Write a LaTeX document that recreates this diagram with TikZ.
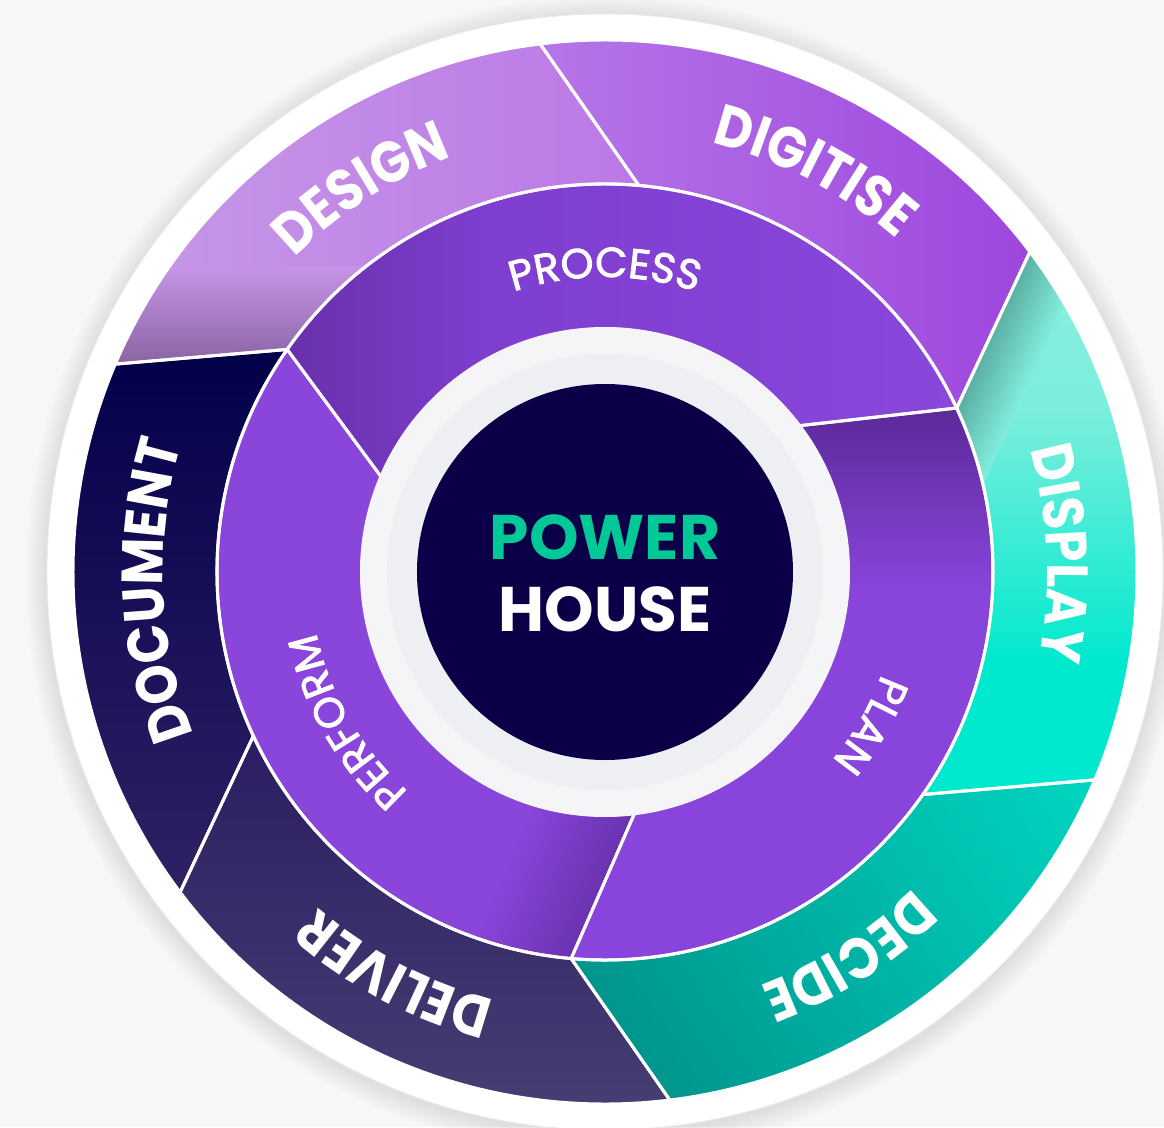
\documentclass[tikz,border=0pt]{standalone}
\usepackage{fontspec}
\setmainfont{Poppins}
\newfontfamily\olfam{Poppins}[FakeStretch=0.88]
\newfontfamily\mlfam{Poppins}[FakeBold=2]
\usetikzlibrary{decorations.text}

\definecolor{bgc}{HTML}{F7F7F8}
\definecolor{navy}{HTML}{0B0047}
\definecolor{pgreen}{HTML}{00C896}
\definecolor{ringA}{HTML}{F5F5F7}
\definecolor{ringB}{HTML}{EEEFF3}
% outer ring
\definecolor{dsL}{HTML}{C79CE8}
\definecolor{dsR}{HTML}{BC78E6}
\definecolor{dsM}{HTML}{C594E8}
\definecolor{dsD}{HTML}{88639F}
\definecolor{dgL}{HTML}{B676E7}
\definecolor{dgR}{HTML}{9D46DE}
\definecolor{dpT}{HTML}{8EEFE0}
\definecolor{dpM}{HTML}{7BEEDC}
\definecolor{dpB}{HTML}{00E9CE}
\definecolor{dpS}{HTML}{5AAEA2}
\definecolor{dcL}{HTML}{00958D}
\definecolor{dcR}{HTML}{00D6C1}
\definecolor{dlT}{HTML}{2B1D61}
\definecolor{dlB}{HTML}{473E73}
\definecolor{dmT}{HTML}{02004A}
\definecolor{dmM}{HTML}{160D57}
\definecolor{dmB}{HTML}{302165}
% middle ring
\definecolor{prL}{HTML}{672FA9}
\definecolor{prM}{HTML}{7E3ECF}
\definecolor{prR}{HTML}{8A47DC}
\definecolor{plT}{HTML}{5A2997}
\definecolor{plB}{HTML}{8944DB}
\definecolor{pfD}{HTML}{6A32B0}
\definecolor{pfB}{HTML}{8A45DB}

% annular sectors with slanted sides
\newcommand\osect[1]{(#1:532pt) arc[start angle=#1, end angle={#1+60}, radius=532pt] -- ({#1+48}:388pt) arc[start angle={#1+48}, end angle={#1-12}, radius=388pt] -- cycle}
\newcommand\msect[1]{(#1:388pt) arc[start angle=#1, end angle={#1+120}, radius=388pt] -- ({#1+132}:243pt) arc[start angle={#1+132}, end angle={#1+12}, radius=243pt] -- cycle}

\newcommand\olfont{\olfam\bfseries\fontsize{58}{58}\selectfont\color{white}}
\newcommand\mlfont{\mlfam\fontsize{42}{42}\selectfont\color{white}}

\tikzset{
  olab/.style={decorate, decoration={text along path, text align=center, text={|\olfont|#1}}},
  mlab/.style={decorate, decoration={text along path, text align=center, text={|\mlfont|#1}}},
  sepline/.style={draw=white, line width=3pt, line join=round},
  centertext/.style={font=\fontsize{63}{63}\selectfont\bfseries, anchor=base, inner sep=0pt}
}

\newcommand\otext[2]{\path[olab={#2}] ({#1+45}:442pt) arc[start angle={#1+45}, end angle={#1-45}, radius=442pt];}
\newcommand\mtext[2]{\path[mlab={#2}] ({#1+50}:295pt) arc[start angle={#1+50}, end angle={#1-50}, radius=295pt];}

\begin{document}
\begin{tikzpicture}[x=1pt,y=1pt]
\useasboundingbox (-605,-555) rectangle (559,572);
\fill[bgc] (-605,-555) rectangle (559,572);

% soft shadow of the disc
\foreach \k in {1,...,12}
  \fill[black, opacity=0.006] (0,-3) circle[radius={558pt+\k*1.8pt}];
\fill[white] (0,0) circle[radius=558pt];
\draw[black!8, line width=0.8pt] (0,0) circle[radius=558pt];

% ---------- outer ring ----------
% DESIGN
\begin{scope}
  \clip \osect{97};
  \shade[left color=dsL, right color=dsR] (-540,190) rectangle (40,540);
  \shade[top color=dsM, bottom color=dsD] (-540,205) rectangle (40,305);
\end{scope}
% DIGITISE
\begin{scope}
  \clip \osect{37};
  \shade[left color=dgL, right color=dgR] (-70,0) rectangle (430,540);
\end{scope}
% DISPLAY
\begin{scope}
  \clip \osect{-23};
  \shade[top color=dpT, bottom color=dpM] (290,160) rectangle (545,335);
  \shade[top color=dpM, bottom color=dpB] (290,-90) rectangle (545,160);
  \fill[dpB] (290,-240) rectangle (545,-90);
  \begin{scope}[transform canvas={rotate=-24.5}]
    \shade[left color=dpS, right color=dpM!60!dpT] (252,-1000) rectangle (308,1000);
  \end{scope}
\end{scope}
% DECIDE
\begin{scope}
  \clip \osect{277};
  \begin{scope}[transform canvas={rotate=32.6}]
    \shade[left color=dcL, right color=dcR] (-240,-1000) rectangle (305,1000);
  \end{scope}
\end{scope}
% DELIVER
\begin{scope}
  \clip \osect{217};
  \shade[top color=dlT, bottom color=dlB] (-480,-540) rectangle (80,-160);
\end{scope}
% DOCUMENT
\begin{scope}
  \clip \osect{157};
  \shade[top color=dmT, middle color=dmM, bottom color=dmB] (-540,-330) rectangle (-200,230);
\end{scope}

% ---------- middle ring ----------
% PROCESS
\begin{scope}
  \clip \msect{25};
  \shade[left color=prL, right color=prM] (-330,80) rectangle (-120,400);
  \shade[left color=prM, right color=prR] (-120,80) rectangle (360,400);
\end{scope}
% PLAN
\begin{scope}
  \clip \msect{265};
  \fill[plB] (-80,-400) rectangle (400,200);
  \shade[top color=plT, bottom color=plB] (100,-20) rectangle (400,170);
\end{scope}
% PERFORM
\begin{scope}
  \clip \msect{145};
  \fill[pfB] (-400,-400) rectangle (100,300);
  \begin{scope}[transform canvas={rotate=156.5}]
    \shade[left color=pfD, right color=pfB] (-122,-1000) rectangle (-25,1000);
  \end{scope}
\end{scope}

% white separators
\foreach \a in {37,97,157,217,277,-23} \path[sepline] \osect{\a};
\foreach \a in {25,145,265} \path[sepline] \msect{\a};

% ---------- hub ----------
\fill[ringA] (0,0) circle[radius=245pt];
\fill[ringB] (0,0) circle[radius=218pt];
\fill[navy] (0,0) circle[radius=188pt];

\node[centertext, text=pgreen] (power) at (0,13) {POWER};
\node[centertext, text=white] (house) at (0,-59) {HOUSE};

% ---------- labels ----------
\otext{122.4}{DESIGN}
\otext{62.4}{DIGITISE}
\otext{2.4}{DISPLAY}
\otext{-57.6}{DECIDE}
\otext{-117.6}{DELIVER}
\otext{182.4}{DOCUMENT}

\mtext{90}{PROCESS}
\mtext{-30}{PLAN}
\mtext{210}{PERFORM}
\end{tikzpicture}
\end{document}
